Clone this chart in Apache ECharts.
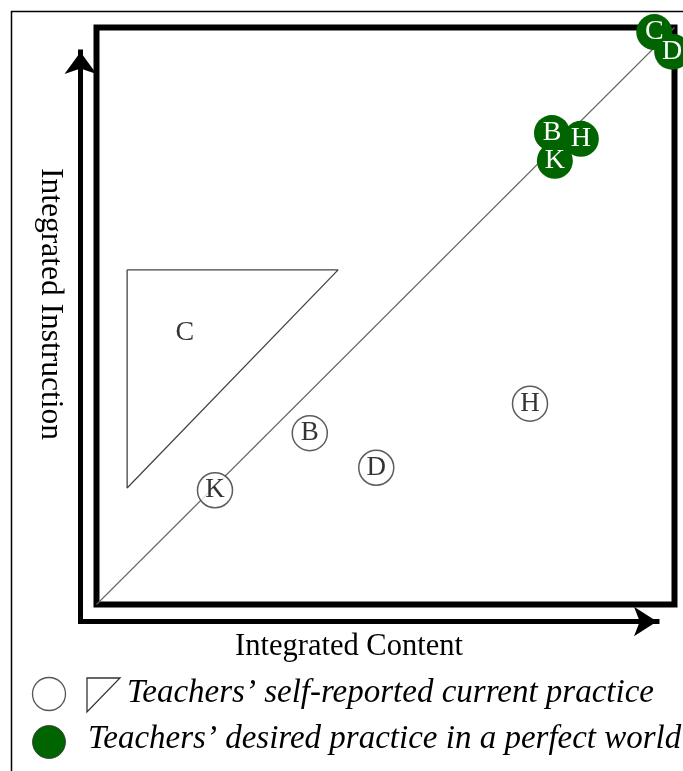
<!DOCTYPE html>
<html>
<head>
<meta charset="utf-8">
<title>Integrated Content vs Integrated Instruction</title>
<script src="https://cdn.jsdelivr.net/npm/echarts@6/dist/echarts.min.js"></script>
<style>
    html, body { margin: 0; padding: 0; background: #fff; }
    #main { width: 683px; height: 771px; }
</style>
</head>
<body>
<div id="main"></div>
<script>
// current practice (white circles)
var currentNames = ['K', 'B', 'D', 'H'];
var currentContent = [2.05, 3.69, 4.84, 7.50];
var currentInstruction = [1.98, 2.97, 2.37, 3.48];

// teacher C reported a region instead of a point
var regionName = 'C';
var regionContent = [0.53, 4.18, 0.53, 0.53];
var regionInstruction = [5.80, 5.80, 2.02, 5.80];
var regionLabelPos = [1.53, 4.72];

// desired practice (green circles)
var desiredNames = ['B', 'H', 'K', 'C', 'D'];
var desiredContent = [7.88, 8.38, 7.93, 9.65, 9.96];
var desiredInstruction = [8.17, 8.07, 7.69, 9.92, 9.58];

// diagonal content = instruction
var diagonal = [0, 10];

var serif = 'Liberation Serif';
var green = '#006400';

function toPoints(xs, ys, names) {
    var arr = [];
    for (var i = 0; i < xs.length; i++) {
        arr.push({ value: [xs[i], ys[i]], name: names ? names[i] : '' });
    }
    return arr;
}

var myChart = echarts.init(document.getElementById('main'));

var option = {
    animation: false,
    grid: [
        // thick frame
        { left: 96.5, top: 27.5, width: 578, height: 577, show: true, borderColor: '#000', borderWidth: 6, backgroundColor: 'transparent' },
        // arrows
        { left: 80.5, top: 52, width: 576.5, height: 569.5 }
    ],
    xAxis: [
        { gridIndex: 0, type: 'value', min: 0, max: 10, show: false },
        {
            gridIndex: 1, type: 'value', min: 0, max: 1,
            axisLine: { show: true, symbol: ['none', 'arrow'], symbolSize: [22, 23], lineStyle: { color: '#000', width: 5, cap: 'square' } },
            axisTick: { show: false }, axisLabel: { show: false }, splitLine: { show: false }
        }
    ],
    yAxis: [
        { gridIndex: 0, type: 'value', min: 0, max: 10, show: false },
        {
            gridIndex: 1, type: 'value', min: 0, max: 1,
            axisLine: { show: true, symbol: ['none', 'arrow'], symbolSize: [24, 22], lineStyle: { color: '#000', width: 5, cap: 'square' } },
            axisTick: { show: false }, axisLabel: { show: false }, splitLine: { show: false }
        }
    ],
    series: [
        {
            type: 'line',
            data: [[diagonal[0], diagonal[0]], [diagonal[1], diagonal[1]]],
            symbol: 'none',
            silent: true,
            lineStyle: { color: '#666', width: 1.1 },
            z: 2
        },
        {
            type: 'line',
            data: toPoints(regionContent, regionInstruction).map(function(d) { return d.value; }),
            symbol: 'none',
            silent: true,
            lineStyle: { color: '#444', width: 1.3 },
            z: 2
        },
        {
            type: 'scatter',
            data: [{ value: regionLabelPos, name: regionName }],
            symbolSize: 1,
            itemStyle: { color: 'transparent' },
            label: { show: true, position: 'inside', formatter: '{b}', color: '#000', fontFamily: serif, fontSize: 28 },
            z: 3
        },
        {
            type: 'scatter',
            data: toPoints(currentContent, currentInstruction, currentNames),
            symbolSize: 35,
            clip: false,
            itemStyle: { color: '#fff', borderColor: '#333', borderWidth: 1.5 },
            label: { show: true, position: 'inside', formatter: '{b}', color: '#000', fontFamily: serif, fontSize: 27 },
            z: 4
        },
        {
            type: 'scatter',
            data: toPoints(desiredContent, desiredInstruction, desiredNames),
            symbolSize: 36,
            clip: false,
            itemStyle: { color: green, opacity: 1 },
            label: { show: true, position: 'inside', formatter: '{b}', color: '#fff', fontFamily: serif, fontSize: 28 },
            z: 5
        }
    ],
    graphic: [
        // page border
        { type: 'polyline', shape: { points: [[11.5, 771], [11.5, 11.5], [683, 11.5]] }, style: { stroke: '#000', lineWidth: 1.5, fill: null } },
        // axis titles
        { type: 'text', x: 349, y: 647, style: { text: 'Integrated Content', font: '30.5px "Liberation Serif"', fill: '#000', align: 'center', verticalAlign: 'middle' } },
        { type: 'text', x: 50, y: 304, rotation: -Math.PI / 2, style: { text: 'Integrated Instruction', font: '31.5px "Liberation Serif"', fill: '#000', align: 'center', verticalAlign: 'middle' } },
        // legend
        { type: 'circle', shape: { cx: 49, cy: 694, r: 16.5 }, style: { fill: '#fff', stroke: '#555', lineWidth: 1.3 } },
        { type: 'polygon', shape: { points: [[87, 678], [120, 678], [87, 712]] }, style: { fill: '#fff', stroke: '#333', lineWidth: 1.3 } },
        { type: 'text', x: 127, y: 693, style: { text: 'Teachers\u2019 self-reported current practice', font: 'italic 33px "Liberation Serif"', fill: '#000', align: 'left', verticalAlign: 'middle' } },
        { type: 'circle', shape: { cx: 49, cy: 742, r: 16.5 }, style: { fill: green, stroke: '#333', lineWidth: 0.8 } },
        { type: 'text', x: 88, y: 739, style: { text: 'Teachers\u2019 desired practice in a perfect world', font: 'italic 33px "Liberation Serif"', fill: '#000', align: 'left', verticalAlign: 'middle' } }
    ]
};

myChart.setOption(option);
</script>
</body>
</html>
